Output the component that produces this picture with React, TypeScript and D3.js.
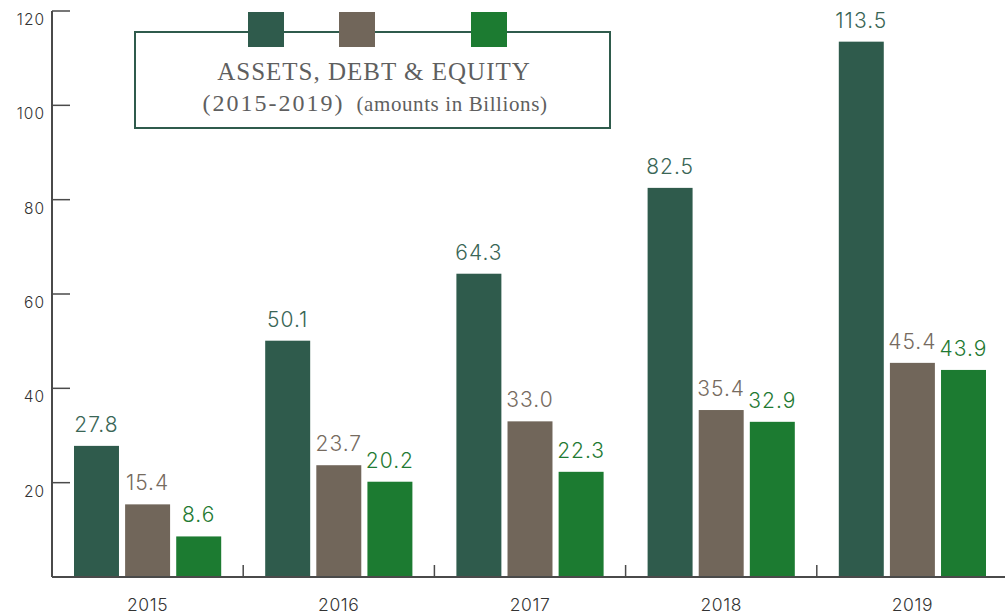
import React from 'react';
import * as d3 from 'd3';

const width = 1005;
const height = 616;
const margin = { top: 11, right: -3, bottom: 39, left: 52 };

const years = ['2015', '2016', '2017', '2018', '2019'];
const assets = [27.8, 50.1, 64.3, 82.5, 113.5];
const debt = [15.4, 23.7, 33.0, 35.4, 45.4];
const equity = [8.6, 20.2, 22.3, 32.9, 43.9];
const yTicks = [20, 40, 60, 80, 100, 120];

const series = [
  { key: 'assets', values: assets, fill: '#2f5b4c', label: '#3a6656' },
  { key: 'debt', values: debt, fill: '#71665a', label: '#766b5f' },
  { key: 'equity', values: equity, fill: '#1c7b31', label: '#1f7a33' }
];

const axisColor = '#4a4a4a';
const sans = 'Inter, Lato, sans-serif';
const serif = '"Liberation Serif", "DejaVu Serif", serif';

export default function App() {
  const x0 = d3
    .scaleBand()
    .domain(years)
    .range([margin.left, width - margin.right]);
  const x1 = d3
    .scaleBand()
    .domain(series.map(s => s.key))
    .range([22, x0.bandwidth() - 22])
    .paddingInner(0.12);
  const y = d3
    .scaleLinear()
    .domain([0, 120])
    .range([height - margin.bottom, margin.top]);

  const base = y(0);

  return (
    <svg
      width={width}
      height={height}
      style={{ position: 'absolute', left: 0, top: 0, background: '#fff' }}
    >
      {/* bars and value labels */}
      {years.map((yr, i) => (
        <g key={yr} transform={`translate(${x0(yr)},0)`}>
          {series.map(s => (
            <g key={s.key}>
              <rect
                x={x1(s.key)}
                y={y(s.values[i])}
                width={x1.bandwidth()}
                height={base - y(s.values[i])}
                fill={s.fill}
              />
              <text
                x={(x1(s.key) as number) + x1.bandwidth() / 2}
                y={y(s.values[i]) - 14}
                textAnchor="middle"
                fontFamily={sans}
                fontWeight={300}
                fontSize={21}
                letterSpacing={1}
                fill={s.label}
              >
                {s.values[i].toFixed(1)}
              </text>
            </g>
          ))}
          <text
            x={x0.bandwidth() / 2}
            y={611}
            textAnchor="middle"
            fontFamily={sans}
            fontWeight={300}
            fontSize={17.5}
            letterSpacing={0.6}
            fill="#333"
          >
            {yr}
          </text>
        </g>
      ))}

      {/* y axis */}
      <line x1={margin.left} x2={margin.left} y1={y(120)} y2={base} stroke={axisColor} strokeWidth={2} />
      {yTicks.map(t => (
        <g key={t}>
          <line x1={margin.left} x2={margin.left + 18} y1={y(t)} y2={y(t)} stroke={axisColor} strokeWidth={1.5} />
          <text
            x={45}
            y={y(t) + 14}
            textAnchor="end"
            fontFamily={sans}
            fontWeight={300}
            fontSize={15.5}
            letterSpacing={1}
            fill="#333"
          >
            {t}
          </text>
        </g>
      ))}

      {/* x axis */}
      <line x1={margin.left} x2={width} y1={base} y2={base} stroke={axisColor} strokeWidth={2} />
      {years.slice(1).map(yr => (
        <line
          key={yr}
          x1={x0(yr)}
          x2={x0(yr)}
          y1={base}
          y2={base - 12}
          stroke={axisColor}
          strokeWidth={1.5}
        />
      ))}

      {/* legend */}
      <rect x={135} y={32} width={475} height={96} fill="#fff" stroke="#2f5b4c" strokeWidth={2} />
      <rect x={248} y={12} width={36} height={35} fill={series[0].fill} />
      <rect x={339} y={12} width={36} height={35} fill={series[1].fill} />
      <rect x={471} y={12} width={36} height={35} fill={series[2].fill} />
      <text
        x={374}
        y={80}
        textAnchor="middle"
        fontFamily={serif}
        fontSize={25}
        letterSpacing={1}
        fill="#5f5f5f"
      >
        ASSETS, DEBT &amp; EQUITY
      </text>
      <text
        x={375}
        y={111}
        textAnchor="middle"
        fontFamily={serif}
        fontSize={21}
        letterSpacing={0.6}
        fill="#5f5f5f"
      >
        <tspan fontSize={24} letterSpacing={2}>(2015-2019)</tspan>
        <tspan dx={12}>(amounts in Billions)</tspan>
      </text>
    </svg>
  );
}
